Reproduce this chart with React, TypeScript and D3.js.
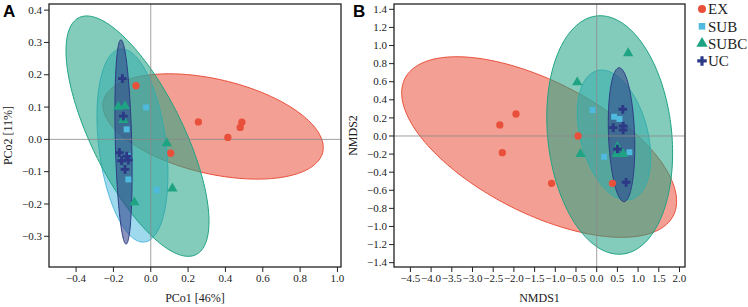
import React from 'react';
import * as d3 from 'd3';

// Two ordination panels (PCoA / NMDS) with group confidence ellipses.

const W = 748;
const H = 307;
const SERIF = '"Liberation Serif", "Times New Roman", serif';

const GROUPS = ['EX', 'SUB', 'SUBC', 'UC'];
const COLORS: Record<string, string> = {
  EX: '#E9503B',
  SUB: '#4FB9DE',
  SUBC: '#1EA383',
  UC: '#2C3A86',
};
const SYMBOLS: Record<string, d3.SymbolType> = {
  EX: d3.symbolCircle,
  SUB: d3.symbolSquare,
  SUBC: d3.symbolTriangle,
  UC: d3.symbolCross,
};
const SYMBOL_SIZE: Record<string, number> = { EX: 42, SUB: 36, SUBC: 46, UC: 42 };

// ---- Panel A: PCoA points [x, y] ----
const pcoaEX = [[-0.079, 0.166], [0.255, 0.054], [0.488, 0.053], [0.479, 0.037], [0.413, 0.006], [0.107, -0.043]];
const pcoaSUB = [[-0.025, 0.099], [-0.129, 0.031], [-0.123, -0.052], [-0.12, -0.124], [0.032, -0.157]];
const pcoaSUBC = [[-0.174, 0.101], [-0.138, 0.103], [-0.147, 0.06], [0.086, -0.012], [0.116, -0.152], [-0.088, -0.195]];
const pcoaUC = [[-0.152, 0.188], [-0.147, 0.072], [-0.168, -0.041], [-0.129, -0.052], [-0.156, -0.066], [-0.12, -0.064], [-0.138, -0.093]];

// ellipse: [cx, cy, sx, sy, r]
const pcoaEllipses: Record<string, number[]> = {
  EX: [0.334, 0.04, 0.59, 0.163, -0.4],
  SUB: [-0.098, -0.019, 0.19, 0.299, -0.3],
  SUBC: [-0.071, 0.01, 0.383, 0.372, -0.71],
  UC: [-0.146, -0.008, 0.046, 0.316, -0.3],
};

// ---- Panel B: NMDS points ----
const nmdsEX = [[-1.95, 0.243], [-2.34, 0.122], [-2.28, -0.184], [-0.45, 0.0], [-1.09, -0.523], [0.38, -0.523]];
const nmdsSUB = [[-0.1, 0.287], [0.42, 0.213], [0.55, 0.188], [0.79, -0.18], [0.18, -0.229]];
const nmdsSUBC = [[0.76, 0.914], [-0.47, 0.593], [-0.39, -0.199], [0.5, -0.118], [0.48, -0.199], [0.64, -0.199]];
const nmdsUC = [[0.63, 0.295], [0.4, 0.092], [0.64, 0.11], [0.64, 0.066], [0.5, -0.144], [0.71, -0.512]];

const nmdsEllipses: Record<string, number[]> = {
  EX: [-1.39, -0.122, 3.32, 0.998, -0.6],
  SUB: [0.418, 0.011, 0.886, 0.718, -0.34],
  SUBC: [0.314, 0.011, 1.52, 1.318, -0.15],
  UC: [0.6, 0.014, 0.32, 0.74, -0.18],
};

const pcoaXTicks = [-0.4, -0.2, 0.0, 0.2, 0.4, 0.6, 0.8, 1.0];
const pcoaYTicks = [-0.3, -0.2, -0.1, 0.0, 0.1, 0.2, 0.3, 0.4];
const nmdsXTicks = [-4.5, -4.0, -3.5, -3.0, -2.5, -2.0, -1.5, -1.0, -0.5, 0.0, 0.5, 1.0, 1.5, 2.0];
const nmdsYTicks = [-1.4, -1.2, -1.0, -0.8, -0.6, -0.4, -0.2, 0.0, 0.2, 0.4, 0.6, 0.8, 1.0, 1.2, 1.4];

type PanelProps = {
  label: string;
  labelX: number;
  box: { left: number; top: number; right: number; bottom: number };
  xDomain: [number, number];
  yDomain: [number, number];
  xTicks: number[];
  yTicks: number[];
  xTitle: string;
  yTitle: string;
  points: Record<string, number[][]>;
  ellipses: Record<string, number[]>;
};

const fmt = d3.format('.1f');

function Panel({ label, labelX, box, xDomain, yDomain, xTicks, yTicks, xTitle, yTitle, points, ellipses }: PanelProps) {
  const x = d3.scaleLinear().domain(xDomain).range([box.left, box.right]);
  const y = d3.scaleLinear().domain(yDomain).range([box.bottom, box.top]);

  const ellipsePath = (e: number[]) => {
    const [cx, cy, sx, sy, r] = e;
    const s = Math.sqrt(1 - r * r);
    const angles = d3.range(0, Math.PI * 2, Math.PI / 90);
    return d3.line<number>()
      .x((t) => x(cx + sx * Math.cos(t)))
      .y((t) => y(cy + sy * (r * Math.cos(t) + s * Math.sin(t))))
      .curve(d3.curveLinearClosed)(angles);
  };

  const midX = (box.left + box.right) / 2;
  const midY = (box.top + box.bottom) / 2;

  return (
    <g>
      <text x={labelX} y={17} fontFamily='"Liberation Sans", Arial, sans-serif' fontWeight="bold" fontSize={17}>
        {label}
      </text>

      {GROUPS.map((g) => (
        <path
          key={`e-${g}`}
          d={ellipsePath(ellipses[g]) ?? ''}
          fill={COLORS[g]}
          fillOpacity={0.55}
          stroke={COLORS[g]}
          strokeWidth={1}
        />
      ))}

      {/* zero reference lines */}
      <line x1={x(0)} x2={x(0)} y1={box.top} y2={box.bottom} stroke="#8a8a8a" strokeOpacity={0.8} strokeWidth={1} />
      <line x1={box.left} x2={box.right} y1={y(0)} y2={y(0)} stroke="#8a8a8a" strokeOpacity={0.8} strokeWidth={1} />

      {GROUPS.map((g) =>
        points[g].map((p, i) => (
          <path
            key={`p-${g}-${i}`}
            transform={`translate(${x(p[0])},${y(p[1])})`}
            d={d3.symbol(SYMBOLS[g], SYMBOL_SIZE[g])() ?? ''}
            fill={COLORS[g]}
          />
        )),
      )}

      <rect
        x={box.left}
        y={box.top}
        width={box.right - box.left}
        height={box.bottom - box.top}
        fill="none"
        stroke="#222"
        strokeWidth={1.3}
      />

      {xTicks.map((t) => (
        <g key={`xt-${t}`} transform={`translate(${x(t)},${box.bottom})`}>
          <line y1={0} y2={5} stroke="#222" />
          <text y={15} textAnchor="middle" fontFamily={SERIF} fontSize={11} fill="#222">
            {fmt(t)}
          </text>
        </g>
      ))}
      {yTicks.map((t) => (
        <g key={`yt-${t}`} transform={`translate(${box.left},${y(t)})`}>
          <line x1={0} x2={-5} stroke="#222" />
          <text x={-7} dy="0.33em" textAnchor="end" fontFamily={SERIF} fontSize={11} fill="#222">
            {fmt(t)}
          </text>
        </g>
      ))}

      <text x={midX} y={box.bottom + 35} textAnchor="middle" fontFamily={SERIF} fontSize={12} fill="#222">
        {xTitle}
      </text>
      <text
        transform={`translate(${box.left - 37},${midY}) rotate(-90)`}
        textAnchor="middle"
        fontFamily={SERIF}
        fontSize={12}
        fill="#222"
      >
        {yTitle}
      </text>
    </g>
  );
}

export default function App() {
  return (
    <svg
      width={W}
      height={H}
      viewBox={`0 0 ${W} ${H}`}
      style={{ position: 'absolute', left: 0, top: 0, background: '#fff' }}
    >
      <Panel
        label="A"
        labelX={3}
        box={{ left: 49, top: 4, right: 341, bottom: 267 }}
        xDomain={[-0.545, 1.019]}
        yDomain={[-0.395, 0.419]}
        xTicks={pcoaXTicks}
        yTicks={pcoaYTicks}
        xTitle="PCo1 [46%]"
        yTitle="PCo2 [11%]"
        points={{ EX: pcoaEX, SUB: pcoaSUB, SUBC: pcoaSUBC, UC: pcoaUC }}
        ellipses={pcoaEllipses}
      />
      <Panel
        label="B"
        labelX={353}
        box={{ left: 394, top: 4, right: 685, bottom: 267 }}
        xDomain={[-4.896, 2.133]}
        yDomain={[-1.448, 1.459]}
        xTicks={nmdsXTicks}
        yTicks={nmdsYTicks}
        xTitle="NMDS1"
        yTitle="NMDS2"
        points={{ EX: nmdsEX, SUB: nmdsSUB, SUBC: nmdsSUBC, UC: nmdsUC }}
        ellipses={nmdsEllipses}
      />

      {/* legend */}
      {GROUPS.map((g, i) => (
        <g key={`lg-${g}`} transform={`translate(702,${9 + i * 17.3})`}>
          <path d={d3.symbol(SYMBOLS[g], SYMBOL_SIZE[g] * 1.2)() ?? ''} fill={COLORS[g]} />
          <text x={6} dy="0.35em" fontFamily={SERIF} fontSize={15} fill="#222">
            {g}
          </text>
        </g>
      ))}
    </svg>
  );
}
